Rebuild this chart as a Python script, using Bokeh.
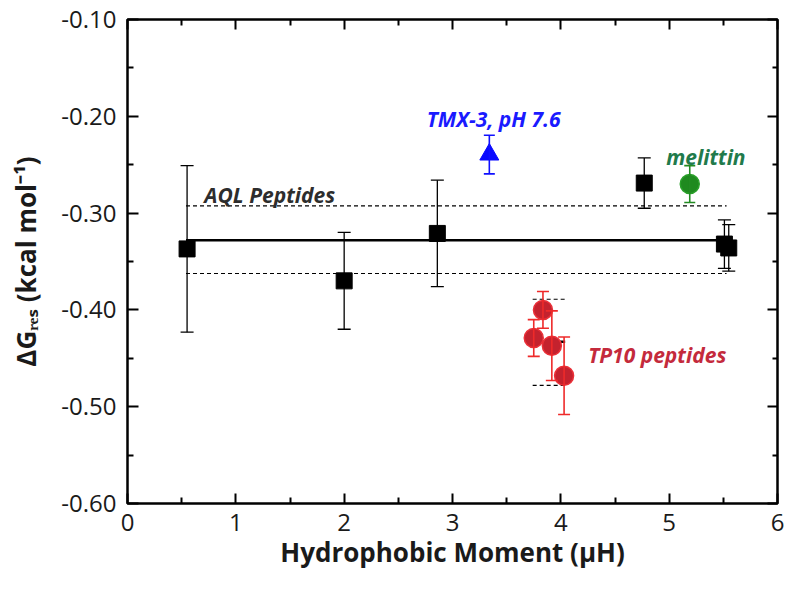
from bokeh.plotting import figure
from bokeh.models import (ColumnDataSource, Whisker, TeeHead, Label, LinearAxis,
                          FixedTicker, Range1d)
from bokeh.embed import file_html
from bokeh.resources import INLINE

# ---------------- data ----------------
aql_x = [0.55, 2.00, 2.86, 4.77, 5.51, 5.55]
aql_y = [-0.337, -0.370, -0.321, -0.269, -0.332, -0.336]
aql_err = [0.086, 0.050, 0.055, 0.026, 0.025, 0.024]

tp10_x = [3.75, 3.835, 3.917, 4.03]
tp10_y = [-0.429, -0.400, -0.437, -0.468]
tp10_err = [0.019, 0.019, 0.036, 0.040]

tmx_x = [3.34]
tmx_y = [-0.2395]
tmx_err = [0.020]

mel_x = [5.19]
mel_y = [-0.270]
mel_err = [0.019]

aql_span = [0.54, 5.53]
aql_mean = -0.328
aql_hi = -0.2925
aql_lo = -0.3624

tp10_span = [3.74, 4.04]
tp10_mean = -0.433
tp10_hi = -0.389
tp10_lo = -0.478

x_ticks = [0, 1, 2, 3, 4, 5, 6]
x_minor = [0.5, 1.5, 2.5, 3.5, 4.5, 5.5]
y_ticks = [-0.6, -0.5, -0.4, -0.3, -0.2, -0.1]
y_tick_labels = ["-0.60", "-0.50", "-0.40", "-0.30", "-0.20", "-0.10"]
y_minor = [-0.55, -0.45, -0.35, -0.25, -0.15]

x_title = "Hydrophobic Moment (\u03bcH)"
y_title = "\u0394G\u1d63\u2091\u209b (kcal mol\u207b\u00b9)"

FONT = "Open Sans"
TC = "#1a1a1a"
W, H = 784, 579

p = figure(width=W, height=H, x_range=Range1d(0, 6), y_range=Range1d(-0.6, -0.1),
           output_backend="svg", toolbar_location=None,
           min_border_left=127, min_border_right=7, min_border_top=19,
           min_border_bottom=76)
p.xgrid.visible = False
p.ygrid.visible = False
p.xaxis.visible = False
p.yaxis.visible = False
p.outline_line_color = "black"
p.outline_line_width = 2.5
p.background_fill_color = "white"
p.border_fill_color = "white"


def style_axis(ax, show_labels, major_len, minor_len):
    ax.axis_line_color = None
    ax.major_tick_in = major_len
    ax.major_tick_out = 0
    ax.minor_tick_in = minor_len
    ax.minor_tick_out = 0
    ax.major_tick_line_width = 2
    ax.minor_tick_line_width = 2
    ax.major_tick_line_color = "black"
    ax.minor_tick_line_color = "black"
    if show_labels:
        ax.major_label_text_font = FONT
        ax.major_label_text_font_size = "24px"
        ax.major_label_text_color = TC
    else:
        ax.major_label_text_font_size = "1px"
        ax.major_label_text_color = None
        ax.major_label_standoff = 0


bottom = LinearAxis(ticker=FixedTicker(ticks=x_ticks, minor_ticks=x_minor))
style_axis(bottom, True, 10, 6)
bottom.major_label_standoff = 10
top = LinearAxis(ticker=FixedTicker(ticks=x_ticks, minor_ticks=x_minor))
style_axis(top, False, 10, 6)
left = LinearAxis(ticker=FixedTicker(ticks=y_ticks, minor_ticks=y_minor))
style_axis(left, True, 11, 6)
left.major_label_overrides = {t: s for t, s in zip(y_ticks, y_tick_labels)}
left.major_label_standoff = 11
right = LinearAxis(ticker=FixedTicker(ticks=y_ticks, minor_ticks=y_minor))
style_axis(right, False, 10, 5)

bottom.axis_label = x_title
left.axis_label = y_title
for ax in (bottom, left):
    ax.axis_label_text_font = FONT
    ax.axis_label_text_font_size = "26px"
    ax.axis_label_text_font_style = "bold"
    ax.axis_label_text_color = TC
bottom.axis_label_standoff = 0
left.axis_label_standoff = 14

p.add_layout(bottom, "below")
p.add_layout(top, "above")
p.add_layout(left, "left")
p.add_layout(right, "right")

# -------- reference lines --------
p.line(aql_span, [aql_mean, aql_mean], line_color="black", line_width=2.5)
p.line(aql_span, [aql_hi, aql_hi], line_color="black", line_width=1.2, line_dash="4 3")
p.line(aql_span, [aql_lo, aql_lo], line_color="black", line_width=1.2, line_dash="4 3")
p.line(tp10_span, [tp10_mean, tp10_mean], line_color="black", line_width=2.5)
p.line(tp10_span, [tp10_hi, tp10_hi], line_color="black", line_width=1.2, line_dash="4 3")
p.line(tp10_span, [tp10_lo, tp10_lo], line_color="black", line_width=1.2, line_dash="4 3")


def errbars(xs, ys, es, color, cap, width):
    src = ColumnDataSource(dict(x=xs, up=[y + e for y, e in zip(ys, es)],
                                lo=[y - e for y, e in zip(ys, es)]))
    w = Whisker(base="x", upper="up", lower="lo", source=src, dimension="height",
                line_color=color, line_width=width, level="glyph",
                upper_head=TeeHead(size=cap, line_color=color, line_width=width),
                lower_head=TeeHead(size=cap, line_color=color, line_width=width))
    p.add_layout(w)


errbars(aql_x, aql_y, aql_err, "black", 13, 1.3)
errbars(tp10_x, tp10_y, tp10_err, "#ee2a2a", 12, 1.6)
errbars(tmx_x, tmx_y, tmx_err, "#1010ff", 11, 1.6)
errbars(mel_x, mel_y, mel_err, "#228b22", 11, 1.6)

p.scatter(aql_x, aql_y, marker="square", size=16, fill_color="black", line_color="black")
p.scatter(tp10_x, tp10_y, marker="circle", size=19, fill_color="#c4222e", line_color="#ea3038",
          line_width=1.5)
p.scatter(tmx_x, tmx_y, marker="triangle", size=19, fill_color="#0a0aff", line_color="#0a0aff")
p.scatter(mel_x, mel_y, marker="circle", size=19, fill_color="#1f8a1f", line_color="#2aa02a",
          line_width=1.5)


# -------- annotation texts --------
def lab(x, y, text, color, size):
    p.add_layout(Label(x=x, y=y, text=text, text_color=color, text_font=FONT,
                       text_font_size=size, text_font_style="bold italic",
                       text_align="left", text_baseline="alphabetic"))


lab(0.709, -0.2814, "AQL Peptides", "#2d2d2d", "21px")
lab(2.762, -0.2025, "TMX-3, pH 7.6", "#1a1aff", "21px")
lab(4.973, -0.2418, "melittin", "#217a4b", "21px")
lab(4.252, -0.4465, "TP10 peptides", "#c42a3c", "21px")

open("out.html", "w").write(file_html(p, INLINE))
